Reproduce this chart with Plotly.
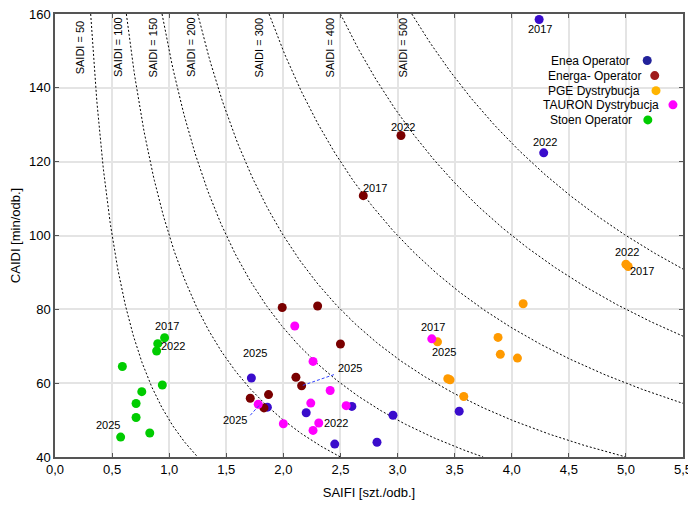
import numpy as np
import plotly.graph_objects as go

# SAIFI (x) / CAIDI (y) per operator
enea_x = [4.24, 4.28, 1.72, 1.86, 2.20, 2.60, 2.96, 2.45, 2.82, 3.54]
enea_y = [158.5, 122.4, 61.4, 53.5, 52.0, 53.7, 51.3, 43.5, 44.0, 52.4]
energa_x = [2.70, 3.03, 1.99, 2.30, 2.50, 2.11, 2.16, 1.71, 1.87, 1.83]
energa_y = [110.8, 127.1, 80.5, 80.9, 70.6, 61.6, 59.3, 55.9, 56.9, 53.3]
pge_x = [5.02, 5.00, 3.35, 3.88, 4.10, 3.90, 4.05, 3.44, 3.46, 3.58]
pge_y = [91.6, 92.2, 71.2, 72.4, 81.5, 67.8, 66.8, 61.2, 60.9, 56.4]
tauron_x = [3.30, 2.31, 1.78, 2.10, 2.26, 2.41, 2.24, 2.55, 2.00, 2.26]
tauron_y = [72.0, 49.2, 54.3, 75.5, 65.9, 58.0, 54.6, 53.9, 49.0, 47.2]
stoen_x = [0.96, 0.89, 0.575, 0.90, 0.59, 0.94, 0.76, 0.71, 0.71, 0.83]
stoen_y = [72.3, 68.7, 45.4, 70.7, 64.5, 59.5, 57.7, 54.5, 50.7, 46.5]

series = [
    ('Enea Operator', enea_x, enea_y, '#3a0ccc', '#22229a'),
    ('Energa- Operator', energa_x, energa_y, '#7a0000', '#a01c1c'),
    ('PGE Dystrybucja', pge_x, pge_y, '#ff9a00', '#ffb400'),
    ('TAURON Dystrybucja', tauron_x, tauron_y, '#ff00ff', '#ff00ff'),
    ('Stoen Operator', stoen_x, stoen_y, '#00cc00', '#00cc00'),
]

saidi_levels = [50, 100, 150, 200, 300, 400, 500]
saidi_label_x = [0.22, 0.55, 0.86, 1.19, 1.79, 2.41, 3.05]

# year labels: text, x, y
year_labels = [
    ('2017', 0.98, 75.6), ('2022', 1.03, 70.1), ('2025', 0.46, 48.6),
    ('2017', 2.80, 113.0), ('2022', 3.05, 129.4), ('2025', 2.58, 64.1),
    ('2025', 1.75, 68.3), ('2025', 1.58, 49.9), ('2022', 2.46, 49.2),
    ('2017', 3.31, 75.1), ('2025', 3.41, 68.4),
    ('2022', 5.01, 95.5), ('2017', 5.14, 90.3),
    ('2017', 4.25, 155.9), ('2022', 4.29, 125.4),
]
# dashed leader lines (from point to label)
leaders = [((2.17, 59.4), (2.46, 62.5)), ((1.71, 51.3), (1.80, 54.4))]

font = 'Liberation Sans, Arial, sans-serif'
fig = go.Figure()

for s in saidi_levels:
    xs = np.linspace(s / 160, min(s / 40, 5.5), 200)
    fig.add_trace(go.Scatter(x=xs, y=s / xs, mode='lines', showlegend=False, hoverinfo='skip',
                             line=dict(color='black', width=1, dash='2px,2px')))

for name, xs, ys, col, _ in series:
    fig.add_trace(go.Scatter(x=xs, y=ys, mode='markers', name=name, showlegend=False,
                             marker=dict(color=col, size=9, line=dict(width=0))))

anns = []
for s, lx in zip(saidi_levels, saidi_label_x):
    anns.append(dict(x=lx, y=151, text=f'SAIDI = {s}', textangle=-90, showarrow=False,
                     font=dict(size=11, color='black')))
for t, x, y in year_labels:
    anns.append(dict(x=x, y=y, text=t, showarrow=False, font=dict(size=11, color='black')))

shapes = []
for (x0, y0), (x1, y1) in leaders:
    shapes.append(dict(type='line', x0=x0, y0=y0, x1=x1, y1=y1,
                       line=dict(color='#3344ff', width=1, dash='3px,2px')))

# custom legend: text on the left, marker on the right
leg_text_x = [0.919, 0.936, 0.935, 0.965, 0.922]
leg_mark_x = [0.943, 0.955, 0.957, 0.984, 0.944]
leg_y = [0.895, 0.861, 0.827, 0.795, 0.761]
for (name, _, _, _, lcol), tx, mx, ly in zip(series, leg_text_x, leg_mark_x, leg_y):
    anns.append(dict(x=tx, y=ly, xref='paper', yref='paper', text=name, showarrow=False,
                     xanchor='right', yanchor='middle', font=dict(size=12, color='black')))
    shapes.append(dict(type='circle', xref='paper', yref='paper', xsizemode='pixel', ysizemode='pixel',
                       xanchor=mx, yanchor=ly, x0=-4.5, x1=4.5, y0=-4.5, y1=4.5,
                       fillcolor=lcol, line=dict(width=0)))

axis_common = dict(showgrid=True, gridcolor='#e4e4e4', gridwidth=1.5, zeroline=False,
                   showline=True, linecolor='#555555', linewidth=1.5, mirror='ticks',
                   ticks='inside', ticklen=4, tickcolor='#555555', automargin=False,
                   ticklabeloverflow='allow', tickfont=dict(size=13, color='black'))

# page body adds an 8px offset, so the figure is 8px smaller and margins shifted
fig.update_layout(
    template='none',
    width=688, height=499,
    margin=dict(l=47, r=13, t=6, b=50),
    plot_bgcolor='white', paper_bgcolor='white',
    font=dict(family=font, color='black'),
    separators=', ',
    xaxis=dict(range=[0, 5.5], dtick=0.5, tickformat='.1f',
               title=dict(text='SAIFI [szt./odb.]', font=dict(size=13), standoff=12), **axis_common),
    yaxis=dict(range=[40, 160], dtick=20,
               title=dict(text='CAIDI [min/odb.]', font=dict(size=13), standoff=8), **axis_common),
    annotations=anns, shapes=shapes, showlegend=False,
)

fig.write_html('out.html')
